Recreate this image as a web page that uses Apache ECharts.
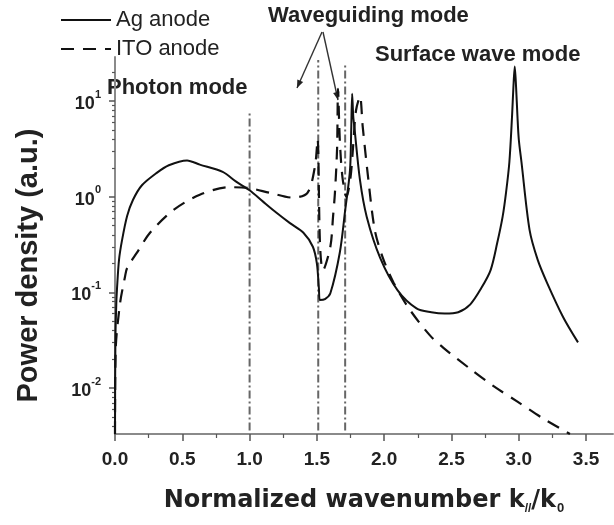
<!DOCTYPE html>
<html>
<head>
<meta charset="utf-8">
<script src="https://cdn.jsdelivr.net/npm/echarts@6/dist/echarts.min.js"></script>
<style>
  html, body { margin: 0; padding: 0; background: #fff; }
  #chart { width: 614px; height: 525px; }
</style>
</head>
<body>
<div id="chart"></div>
<script>
// Power density spectra versus normalized in-plane wavenumber k///k0.
const agK = [0, 0.003, 0.01, 0.015, 0.03, 0.052, 0.09, 0.134, 0.2, 0.31,
             0.4, 0.535, 0.63, 0.8, 0.9, 1.0, 1.1, 1.2, 1.3, 1.4,
             1.47, 1.5, 1.515, 1.523, 1.56, 1.6, 1.67, 1.71, 1.746, 1.755,
             1.762, 1.77, 1.78, 1.82, 1.87, 1.97, 2.1, 2.24, 2.35, 2.45,
             2.55, 2.64, 2.72, 2.79, 2.84, 2.88, 2.905, 2.93, 2.95, 2.96,
             2.97, 2.98, 2.99, 3.0, 3.02, 3.08, 3.14, 3.21, 3.33, 3.44];
const agP = [0.0033, 0.032, 0.079, 0.11, 0.22, 0.35, 0.63, 0.93, 1.32, 1.78,
             2.14, 2.4, 2.17, 1.82, 1.44, 1.17, 0.89, 0.68, 0.53, 0.42,
             0.3, 0.2, 0.11, 0.083, 0.085, 0.098, 0.26, 0.72, 1.9, 5.0,
             12, 7.0, 5.1, 1.5, 0.62, 0.23, 0.105, 0.068, 0.062, 0.06,
             0.062, 0.075, 0.11, 0.17, 0.33, 0.62, 1.1, 2.3, 7.0, 14,
             23, 14, 7.0, 4.0, 2.3, 0.45, 0.22, 0.126, 0.055, 0.03];

const itoK = [0, 0.005, 0.037, 0.074, 0.09, 0.163, 0.26, 0.43, 0.63, 0.85,
              1.0, 1.15, 1.32, 1.43, 1.486, 1.505, 1.523, 1.545, 1.6, 1.62,
              1.634, 1.65, 1.657, 1.67, 1.69, 1.72, 1.75, 1.77, 1.79, 1.82,
              1.84, 1.88, 1.93, 1.99, 2.07, 2.19, 2.34, 2.44, 2.64, 2.81,
              2.99, 3.18, 3.38];
const itoP = [0.0033, 0.025, 0.076, 0.145, 0.18, 0.26, 0.42, 0.72, 1.05, 1.26,
              1.23, 1.1, 0.98, 1.1, 2.1, 4.0, 0.32, 0.17, 0.3, 0.62,
              1.1, 3.2, 13.5, 4.0, 1.6, 1.0, 1.6, 3.5, 7.9, 11.2,
              5.5, 1.62, 0.45, 0.23, 0.126, 0.066, 0.0355, 0.0263, 0.0158, 0.0105,
              0.0072, 0.0048, 0.0033];

// Mode boundaries (dash-dot verticals)
const modeK = [1.0, 1.51, 1.71];
const modeTop = [7.6, 27, 24];
const modeBottom = 0.0036;

// Axis ticks
const xTicks = [0, 0.5, 1.0, 1.5, 2.0, 2.5, 3.0, 3.5];
const xMinorTicks = [0.25, 0.75, 1.25, 1.75, 2.25, 2.75, 3.25];
const yTicks = [0.01, 0.1, 1, 10];
const yMinorTicks = [0.004, 0.005, 0.006, 0.007, 0.008, 0.009,
                     0.02, 0.03, 0.04, 0.05, 0.06, 0.07, 0.08, 0.09,
                     0.2, 0.3, 0.4, 0.5, 0.6, 0.7, 0.8, 0.9,
                     2, 3, 4, 5, 6, 7, 8, 9, 20];

const X_MIN = 0, X_MAX = 3.7;
const Y_MIN = 0.0033, Y_MAX = 29;

const SANS = '"Liberation Sans", Arial, sans-serif';
const WIDE = '"DejaVu Sans", sans-serif';
const INK = '#222';
const AXIS_GRAY = '#8a8a8a';

function pairs(xs, ys) { return xs.map((x, i) => [x, ys[i]]); }

function powerLabel(v) {
  const e = Math.round(Math.log10(v));
  return '{b|10}{s|' + e + '}';
}

function arrowHead(x1, y1, x2, y2, len, half) {
  const a = Math.atan2(y2 - y1, x2 - x1);
  const bx = x2 - len * Math.cos(a), by = y2 - len * Math.sin(a);
  return [[x2, y2],
          [bx + half * Math.sin(a), by - half * Math.cos(a)],
          [bx - half * Math.sin(a), by + half * Math.cos(a)]];
}

const arrows = [
  [322, 32, 297, 88],
  [323, 32, 338, 100]
];

const graphics = [];
arrows.forEach(([x1, y1, x2, y2]) => {
  graphics.push({
    type: 'line', silent: true,
    shape: { x1: x1, y1: y1, x2: x2, y2: y2 },
    style: { stroke: '#333', lineWidth: 1.4 }
  });
  graphics.push({
    type: 'polygon', silent: true,
    shape: { points: arrowHead(x1, y1, x2, y2, 8, 3.2) },
    style: { fill: '#222' }
  });
});
[['Photon mode', 107, 88], ['Waveguiding mode', 268, 16], ['Surface wave mode', 375, 55]]
  .forEach(([t, x, y]) => {
    graphics.push({
      type: 'text', silent: true,
      style: {
        text: t, x: x, y: y,
        font: 'bold 22px ' + SANS,
        fill: INK,
        textAlign: 'left', align: 'left',
        textVerticalAlign: 'middle', verticalAlign: 'middle'
      }
    });
  });

const modeSeries = modeK.map((k, i) => ({
  type: 'line',
  name: 'mode' + i,
  data: [[k, modeBottom], [k, modeTop[i]]],
  symbol: 'none',
  silent: true,
  lineStyle: { color: '#666', width: 2, type: [8, 3, 2, 3] },
  z: 1
}));

const chart = echarts.init(document.getElementById('chart'), null, { renderer: 'canvas' });

chart.setOption({
  animation: false,
  backgroundColor: '#fff',
  grid: { left: 115, right: 1, top: 57, bottom: 91, containLabel: false },
  legend: {
    data: ['Ag anode', 'ITO anode'],
    orient: 'vertical',
    left: 55, top: 4,
    itemWidth: 50, itemHeight: 14, itemGap: 7,
    itemStyle: { opacity: 0 },
    textStyle: { fontFamily: SANS, fontSize: 22, color: INK, lineHeight: 22 }
  },
  xAxis: [
    {
      type: 'value', min: X_MIN, max: X_MAX, position: 'bottom',
      axisLine: { lineStyle: { color: AXIS_GRAY, width: 2 } },
      axisTick: { customValues: xTicks, length: 7, lineStyle: { color: '#555', width: 1.5 } },
      axisLabel: {
        customValues: xTicks,
        formatter: v => v.toFixed(1),
        fontFamily: SANS, fontWeight: 'bold', fontSize: 19, color: INK, margin: 16
      },
      splitLine: { show: false },
      name: 'Normalized wavenumber k{sub|//}/k{sub0|0}',
      nameLocation: 'middle',
      nameGap: 52,
      nameTextStyle: {
        fontFamily: WIDE, fontWeight: 'bold', fontSize: 24, color: INK,
        rich: {
          sub: { fontFamily: SANS, fontSize: 12, fontWeight: 'bold', color: INK, verticalAlign: 'bottom', padding: [16, 0, 0, 0] },
          sub0: { fontFamily: SANS, fontSize: 13, fontWeight: 'bold', color: INK, verticalAlign: 'bottom', padding: [16, 0, 0, 1] }
        }
      }
    },
    {
      type: 'value', min: X_MIN, max: X_MAX, position: 'bottom',
      axisLine: { show: false },
      axisTick: { customValues: xMinorTicks, length: 4, lineStyle: { color: '#555', width: 1.2 } },
      axisLabel: { show: false },
      splitLine: { show: false }
    }
  ],
  yAxis: [
    {
      type: 'log', logBase: 10, min: Y_MIN, max: Y_MAX, position: 'left',
      axisLine: { show: true, lineStyle: { color: AXIS_GRAY, width: 2 } },
      axisTick: { show: true, customValues: yTicks, length: 6, lineStyle: { color: '#555', width: 1.5 } },
      axisLabel: {
        customValues: yTicks,
        formatter: powerLabel,
        margin: 14,
        rich: {
          b: { fontFamily: SANS, fontWeight: 'bold', fontSize: 18, color: INK, padding: [6, 0, 0, 0] },
          s: { fontFamily: SANS, fontWeight: 'bold', fontSize: 11, color: INK, verticalAlign: 'top' }
        }
      },
      splitLine: { show: false },
      name: 'Power density (a.u.)',
      nameLocation: 'middle',
      nameRotate: 90,
      nameGap: 72,
      nameTextStyle: { fontFamily: SANS, fontWeight: 'bold', fontSize: 29, color: INK, padding: [0, 40, 0, 0] }
    },
    {
      type: 'log', logBase: 10, min: Y_MIN, max: Y_MAX, position: 'left',
      axisLine: { show: false },
      axisTick: { show: true, customValues: yMinorTicks, length: 3, lineStyle: { color: '#555', width: 1.2 } },
      axisLabel: { show: false },
      splitLine: { show: false }
    }
  ],
  series: [
    {
      type: 'line', name: 'Ag anode',
      data: pairs(agK, agP),
      symbol: 'none',
      smooth: 0.3,
      lineStyle: { color: '#111', width: 2 },
      itemStyle: { color: '#111' },
      z: 3
    },
    {
      type: 'line', name: 'ITO anode',
      data: pairs(itoK, itoP),
      symbol: 'none',
      smooth: 0.3,
      lineStyle: { color: '#111', width: 2.2, type: [13, 9] },
      itemStyle: { color: '#111' },
      z: 2
    }
  ].concat(modeSeries),
  graphic: graphics
});
</script>
</body>
</html>
